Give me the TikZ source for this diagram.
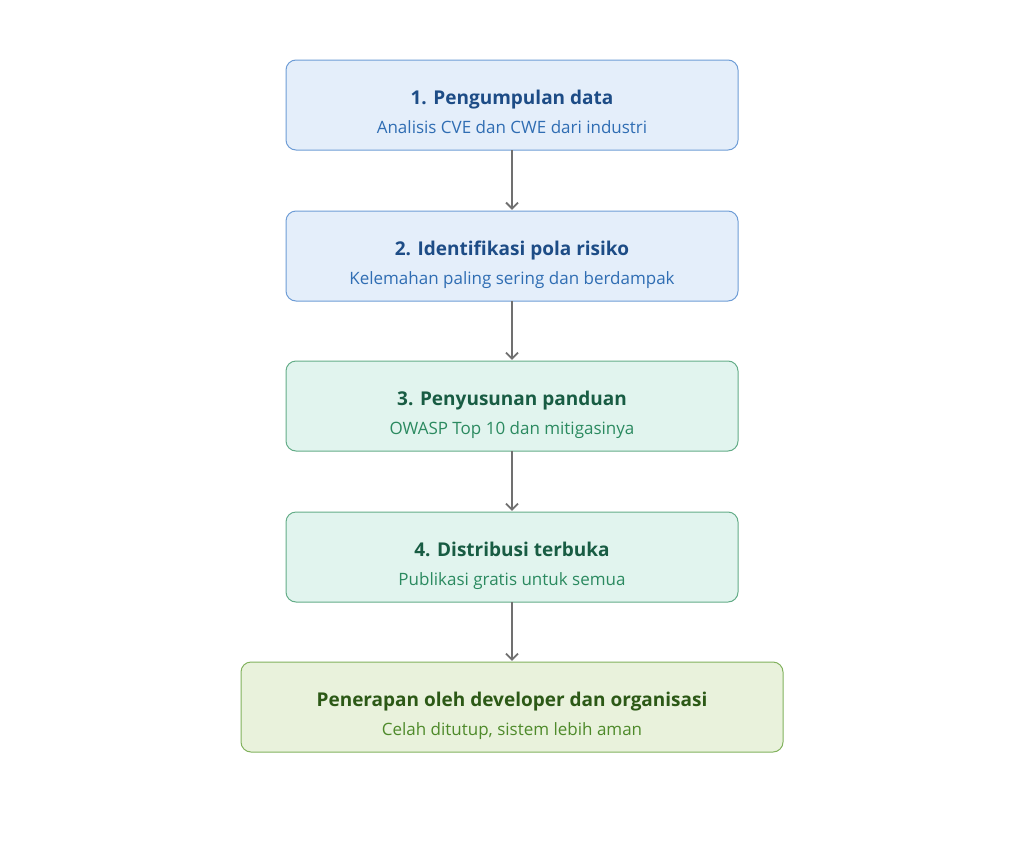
\documentclass[tikz,border=0pt]{standalone}
\usepackage{fontspec}
\setmainfont{Open Sans}
\usetikzlibrary{arrows.meta}
\definecolor{bfill}{HTML}{E4EEFA}
\definecolor{bdraw}{HTML}{6E9DD6}
\definecolor{btitle}{HTML}{1D4C86}
\definecolor{bsub}{HTML}{2F6DB3}
\definecolor{gfill}{HTML}{E1F4EE}
\definecolor{gdraw}{HTML}{64AD88}
\definecolor{gtitle}{HTML}{185C43}
\definecolor{gsub}{HTML}{2B8A60}
\definecolor{lfill}{HTML}{E9F2DC}
\definecolor{ldraw}{HTML}{82B25E}
\definecolor{ltitle}{HTML}{2C5916}
\definecolor{lsub}{HTML}{4E8A2A}
\definecolor{arr}{HTML}{707070}
\tikzset{
  x=1pt, y=-1pt,
  box/.style={rounded corners=10pt, line width=1pt},
  ttl/.style={font=\fontsize{19}{22}\selectfont\bfseries, anchor=base},
  sub/.style={font=\fontsize{17}{20}\selectfont, anchor=base},
  flow/.style={draw=arr, line width=2.2pt, -{Straight Barb[length=6pt,width=12pt,line width=1.8pt]}}
}
\begin{document}
\begin{tikzpicture}
\useasboundingbox (0,0) rectangle (1024,843);
\fill[white] (0,0) rectangle (1024,843);
% boxes
\path[box, fill=bfill, draw=bdraw] (286,60) rectangle (738,150);
\node[inner sep=0, minimum width=452pt, minimum height=90pt] (n1) at (512,105) {};
\node[ttl, text=btitle] (t1) at (512,104) {1. Pengumpulan data};
\node[sub, text=bsub] (s1) at (512,133) {Analisis CVE dan CWE dari industri};

\path[box, fill=bfill, draw=bdraw] (286,211) rectangle (738,301);
\node[inner sep=0, minimum width=452pt, minimum height=90pt] (n2) at (512,256) {};
\node[ttl, text=btitle] (t2) at (512,255) {2. Identifikasi pola risiko};
\node[sub, text=bsub] (s2) at (512,284) {Kelemahan paling sering dan berdampak};

\path[box, fill=gfill, draw=gdraw] (286,361) rectangle (738,451);
\node[inner sep=0, minimum width=452pt, minimum height=90pt] (n3) at (512,406) {};
\node[ttl, text=gtitle] (t3) at (512,405) {3. Penyusunan panduan};
\node[sub, text=gsub] (s3) at (512,434) {OWASP Top 10 dan mitigasinya};

\path[box, fill=gfill, draw=gdraw] (286,512) rectangle (738,602);
\node[inner sep=0, minimum width=452pt, minimum height=90pt] (n4) at (512,557) {};
\node[ttl, text=gtitle] (t4) at (512,556) {4. Distribusi terbuka};
\node[sub, text=gsub] (s4) at (512,585) {Publikasi gratis untuk semua};

\path[box, fill=lfill, draw=ldraw] (241,662) rectangle (783,752);
\node[inner sep=0, minimum width=542pt, minimum height=90pt] (n5) at (512,707) {};
\node[ttl, text=ltitle] (t5) at (512,706) {Penerapan oleh developer dan organisasi};
\node[sub, text=lsub] (s5) at (512,735) {Celah ditutup, sistem lebih aman};

\draw[flow] (n1.south) -- ([yshift=1pt]n2.north);
\draw[flow] (n2.south) -- ([yshift=1pt]n3.north);
\draw[flow] (n3.south) -- ([yshift=1pt]n4.north);
\draw[flow] (n4.south) -- ([yshift=1pt]n5.north);
\end{tikzpicture}
\end{document}
